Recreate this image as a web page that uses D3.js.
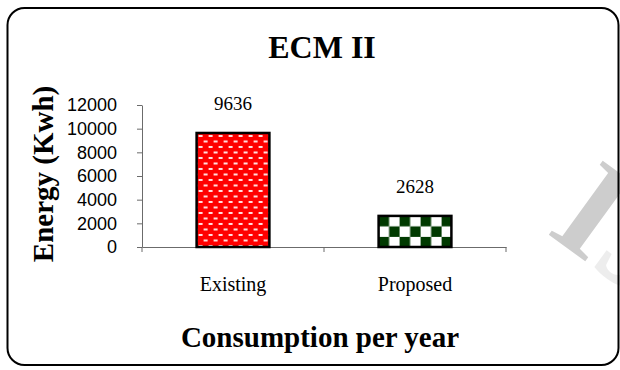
<!DOCTYPE html>
<html>
<head>
<meta charset="utf-8">
<script src="https://cdn.jsdelivr.net/npm/d3@7"></script>
<style>
  html, body { margin: 0; padding: 0; background: #fff; }
  svg { display: block; }
</style>
</head>
<body>
<div id="chart"></div>
<script>
const categories = ["Existing", "Proposed"];
const values = [9636, 2628];
const yTicks = [0, 2000, 4000, 6000, 8000, 10000, 12000];
const chartTitle = "ECM II";
const xTitle = "Consumption per year";
const yTitle = "Energy (Kwh)";

const W = 620, H = 370;
const svg = d3.select("#chart").append("svg").attr("width", W).attr("height", H);
const defs = svg.append("defs");

const plot = { left: 142, right: 506, top: 105, bottom: 247 };

const x = d3.scaleBand().domain(categories).range([plot.left, plot.right]).padding(0);
const y = d3.scaleLinear().domain([0, 12000]).range([plot.bottom, plot.top]);
const bw = x.bandwidth();
const barW = bw * 0.4;

// patterns
const redPat = defs.append("pattern").attr("id", "redPat")
  .attr("patternUnits", "userSpaceOnUse")
  .attr("x", x(categories[0]) + bw * 0.3).attr("y", y(values[0]))
  .attr("width", 10).attr("height", 11);
redPat.append("rect").attr("width", 10).attr("height", 11).attr("fill", "#ff0000");
redPat.append("rect").attr("x", 2).attr("y", 2).attr("width", 4).attr("height", 2).attr("fill", "#ffe0e0");
redPat.append("rect").attr("x", 7).attr("y", 7.5).attr("width", 4).attr("height", 2).attr("fill", "#ffe0e0");
redPat.append("rect").attr("x", -3).attr("y", 7.5).attr("width", 4).attr("height", 2).attr("fill", "#ffe0e0");

const sq = 10.5;
const grnPat = defs.append("pattern").attr("id", "grnPat")
  .attr("patternUnits", "userSpaceOnUse")
  .attr("x", x(categories[1]) + bw * 0.3).attr("y", y(values[1]))
  .attr("width", sq * 2).attr("height", sq * 2);
grnPat.append("rect").attr("width", sq * 2).attr("height", sq * 2).attr("fill", "#ffffff");
grnPat.append("rect").attr("width", sq).attr("height", sq).attr("fill", "#003a00");
grnPat.append("rect").attr("x", sq).attr("y", sq).attr("width", sq).attr("height", sq).attr("fill", "#003a00");

const fills = ["url(#redPat)", "url(#grnPat)"];

// watermark (faint, partly outside the picture as in the source)
const wm = svg.append("text")
  .attr("transform", "translate(545,232) rotate(36)")
  .attr("font-family", "Liberation Serif, Times New Roman, serif")
  .attr("font-weight", "bold")
  .attr("font-size", 140);
wm.append("tspan").attr("fill", "#cdcdcd").text("I");
wm.append("tspan").attr("fill", "#ededed").text("J");
wm.append("tspan").attr("fill", "#cdcdcd").text("I");

// border
svg.append("rect")
  .attr("x", 7.5).attr("y", 8).attr("width", 611).attr("height", 357)
  .attr("rx", 17).attr("ry", 17)
  .attr("fill", "none").attr("stroke", "#000").attr("stroke-width", 2);

// title
svg.append("text")
  .attr("x", 322).attr("y", 58)
  .attr("text-anchor", "middle")
  .attr("font-family", "Liberation Serif, Times New Roman, serif")
  .attr("font-weight", "bold").attr("font-size", 32)
  .text(chartTitle);

// y axis
const yAxis = d3.axisLeft(y).tickValues(yTicks).tickFormat(d3.format("d"))
  .tickSizeInner(5).tickSizeOuter(0).tickPadding(20);
const gy = svg.append("g").attr("transform", `translate(${plot.left},0)`).call(yAxis);
gy.select(".domain").attr("stroke", "#6b6b6b");
gy.selectAll(".tick line").attr("stroke", "#6b6b6b");
gy.selectAll(".tick text")
  .attr("font-family", "Liberation Sans, Arial, sans-serif")
  .attr("font-size", 18).attr("fill", "#000");

// x axis
const xAxis = d3.axisBottom(x).tickSizeInner(0).tickSizeOuter(0).tickPadding(30);
const gx = svg.append("g").attr("transform", `translate(0,${plot.bottom})`).call(xAxis);
gx.select(".domain").attr("stroke", "#6b6b6b");
gx.selectAll(".tick text")
  .attr("font-family", "Liberation Serif, Times New Roman, serif")
  .attr("font-size", 20).attr("fill", "#000");
const bounds = categories.map(c => x(c)).concat([x(categories[categories.length - 1]) + bw]);
gx.selectAll("line.bnd").data(bounds).enter().append("line")
  .attr("class", "bnd")
  .attr("x1", d => d).attr("x2", d => d)
  .attr("y1", 0).attr("y2", 5)
  .attr("stroke", "#6b6b6b");

// bars
svg.selectAll("rect.bar").data(values).enter().append("rect")
  .attr("class", "bar")
  .attr("x", (d, i) => x(categories[i]) + bw * 0.3)
  .attr("y", d => y(d))
  .attr("width", barW)
  .attr("height", d => y(0) - y(d))
  .attr("fill", (d, i) => fills[i])
  .attr("stroke", "#000").attr("stroke-width", 2.5);

// value labels
svg.selectAll("text.val").data(values).enter().append("text")
  .attr("class", "val")
  .attr("x", (d, i) => x(categories[i]) + bw / 2)
  .attr("y", d => y(d) - 23)
  .attr("text-anchor", "middle")
  .attr("font-family", "Liberation Serif, Times New Roman, serif")
  .attr("font-size", 19)
  .text(d => d);

// axis titles
svg.append("text")
  .attr("x", 320).attr("y", 347)
  .attr("text-anchor", "middle")
  .attr("font-family", "Liberation Serif, Times New Roman, serif")
  .attr("font-weight", "bold").attr("font-size", 29)
  .text(xTitle);

svg.append("text")
  .attr("transform", "translate(53,174) rotate(-90)")
  .attr("text-anchor", "middle")
  .attr("font-family", "Liberation Serif, Times New Roman, serif")
  .attr("font-weight", "bold").attr("font-size", 29)
  .text(yTitle);
</script>
</body>
</html>
